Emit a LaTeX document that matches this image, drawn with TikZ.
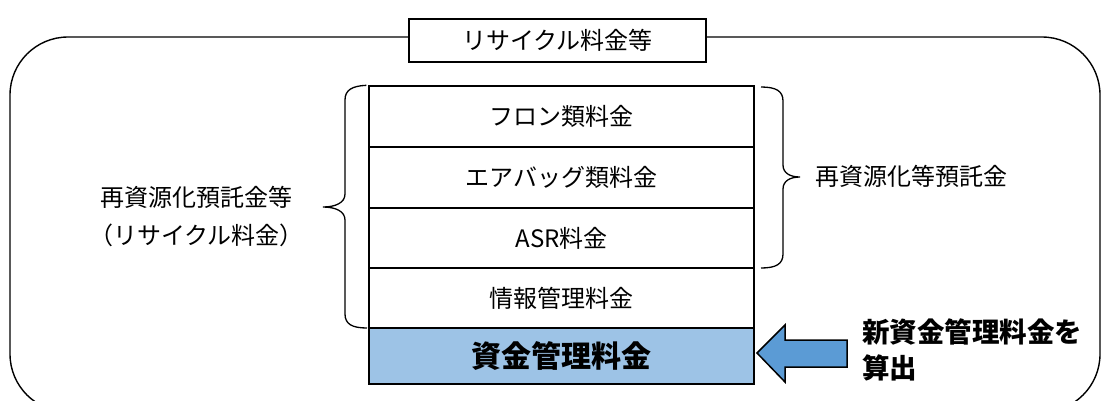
\documentclass[tikz,border=0pt]{standalone}
\usepackage{fontspec}
\setmainfont{Noto Sans CJK JP}
\begin{document}
\begin{tikzpicture}[x=1pt,y=-1pt,
  row/.style={draw,line width=1.4pt,minimum width=385pt,inner sep=0pt,font=\fontsize{24}{28}\selectfont},
  brace/.style={line width=1.3pt},
  lbl/.style={font=\fontsize{24}{38}\selectfont,align=center,inner sep=0pt}]
\useasboundingbox (0,0) rectangle (1102,400);
\clip (0,0) rectangle (1102,400);
% outer frame
\draw[line width=1.4pt,rounded corners=58pt] (10,37) rectangle (1100,412);
% title
\node[draw,line width=1.2pt,fill=white,minimum width=297pt,minimum height=43pt,inner sep=0pt,font=\fontsize{24}{28}\selectfont] (title) at (557.5,40.5) {リサイクル料金等};
% stack
\node[row,minimum height=61pt] (r1) at (561.5,116.5) {フロン類料金};
\node[row,minimum height=61pt] (r2) at (561.5,177.5) {エアバッグ類料金};
\node[row,minimum height=60pt] (r3) at (561.5,238) {ASR料金};
\node[row,minimum height=60pt] (r4) at (561.5,298) {情報管理料金};
\node[row,minimum height=56pt,fill={rgb,255:red,157;green,195;blue,230},font=\fontsize{30}{34}\selectfont\bfseries] (r5) at (561.5,356) {資金管理料金};
% left brace
\draw[brace] (r1.north west) ++(-2,0) coordinate (lbt)
  .. controls (352,86) and (345,90) .. (345,100) -- (345,194)
  .. controls (345,203) and (335,207) .. (323,207) coordinate (lbtip)
  .. controls (335,207) and (345,211) .. (345,220) -- (345,314)
  .. controls (345,324) and (352,328) .. (367,328);
% right brace
\draw[brace] (761,87) .. controls (776,87) and (783,91) .. (783,101) -- (783,165)
  .. controls (783,173) and (790,177) .. (800,177) coordinate (rbtip)
  .. controls (790,177) and (783,181) .. (783,189) -- (783,254)
  .. controls (783,264) and (776,268) .. (761,268);
% labels
\node[lbl,anchor=east] (ltxt) at (304,217) {再資源化預託金等\\（リサイクル料金）};
\node[lbl,anchor=west] (rtxt) at (815,176) {再資源化等預託金};
% arrow
\draw[line width=1.5pt,fill={rgb,255:red,91;green,155;blue,213},line join=miter]
  (757,353) -- (785,325) -- (785,340) -- (847,340) -- (847,367) -- (785,367) -- (785,382) -- cycle;
\node[anchor=west,align=left,inner sep=0pt,font=\fontsize{27.5}{36}\selectfont\bfseries] (calc) at (862,350) {新資金管理料金を\\算出};
\end{tikzpicture}
\end{document}
